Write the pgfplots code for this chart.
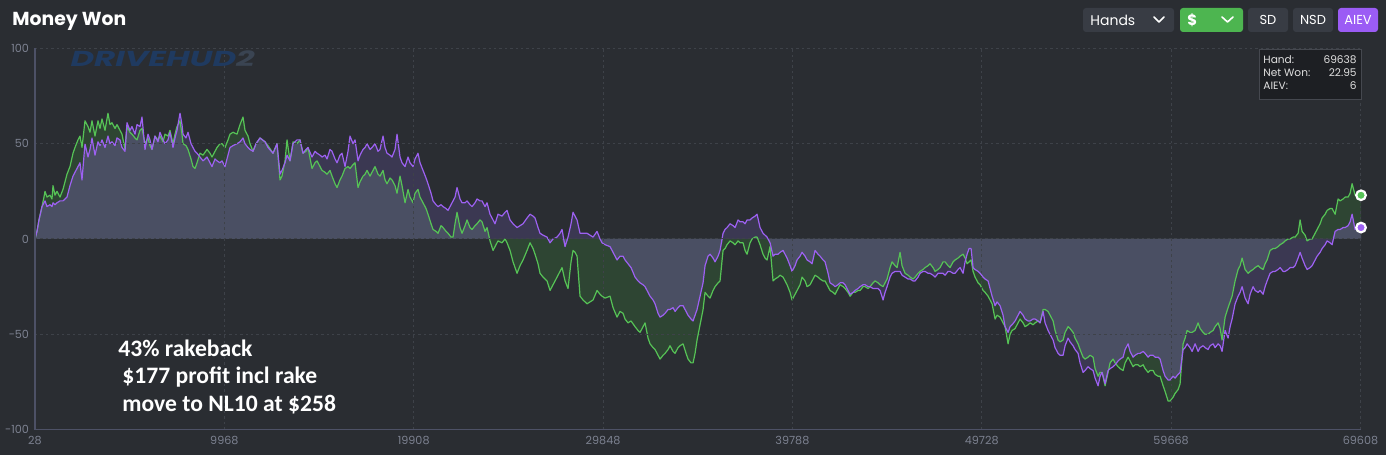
\documentclass[border=0pt]{standalone}
\usepackage{pgfplots}
\pgfplotsset{compat=1.18}
\usepackage{pgfplotstable}
\usepackage{fontspec}
\setmainfont{Poppins}
\newfontfamily\calib{Carlito}
\definecolor{bgc}{HTML}{2A2D32}
\definecolor{gridc}{HTML}{3E4249}
\definecolor{axisc}{HTML}{4D5166}
\definecolor{tickc}{HTML}{7C8190}
\definecolor{gfill}{HTML}{2E4533}
\definecolor{pfill}{HTML}{3B3852}
\definecolor{mfill}{HTML}{4A4F63}
\definecolor{gline}{HTML}{56C356}
\definecolor{pline}{HTML}{9D61F2}
\definecolor{btn}{HTML}{383C44}
\definecolor{btngreen}{HTML}{4DB550}
\definecolor{btnpurple}{HTML}{9B5CF5}
\definecolor{legbg}{HTML}{1D1F23}
\definecolor{legbd}{HTML}{45484F}
\definecolor{wmark}{HTML}{1F3A60}
\definecolor{wmarktwo}{HTML}{3A4452}

\pgfplotstableread{
x g p m
28 0 0 0
133 4 4 4
238 10 10 10
395 17 17 17
500 22 19 19
553 25 20 20
658 22 17 17
815 23 18 18
920 21 17 17
973 28 19 19
1078 23 18 18
1183 25 19 19
1340 22 20 20
1498 26 20 20
1603 30 21 21
1708 34 22 22
1865 38 28 28
2023 45 33 33
2128 48 35 35
2285 52 38 38
2390 54 40 40
2495 48 31 31
2653 62 50 50
2810 59 43 43
2915 56 47 47
3020 62 53 53
3178 54 44 44
3335 62 51 51
3440 58 49 49
3545 63 52 52
3703 57 48 48
3860 66 54 54
3965 60 50 50
4070 61 51 51
4228 58 49 49
4333 60 53 53
4490 57 52 52
4595 55 48 48
4753 47 46 46
4858 59 61 59
5015 56 57 56
5120 55 59 55
5278 53 55 53
5383 52 60 52
5540 57 59 57
5645 58 64 58
5803 50 47 47
5960 53 55 53
6065 49 52 49
6170 47 47 47
6328 54 54 54
6485 52 51 51
6590 54 56 54
6748 51 52 51
6853 55 50 50
7010 54 52 52
7115 57 56 56
7273 50 48 48
7378 55 53 53
7483 59 57 57
7640 62 66 62
7745 55 60 55
7798 50 55 50
7955 49 53 49
8060 47 56 47
8218 42 50 42
8323 38 48 38
8428 37 46 37
8533 40 45 40
8690 45 43 43
8848 44 41 41
9058 47 43 43
9215 45 40 40
9320 43 38 38
9478 46 42 42
9583 48 41 41
9740 50 40 40
9845 50 41 41
10003 48 38 38
10160 52 44 44
10265 55 48 48
10423 56 49 49
10633 55 50 50
10790 60 51 51
10948 64 53 53
11053 57 50 50
11210 54 48 48
11315 50 47 47
11473 46 46 46
11630 50 50 50
11840 53 53 53
12103 51 51 51
12260 49 48 48
12523 45 45 45
12733 50 50 50
12890 31 34 31
12995 33 36 33
13153 41 40 40
13258 52 44 44
13415 41 41 41
13573 51 50 50
13783 50 52 50
13940 52 52 52
14098 45 45 45
14255 46 47 46
14360 48 48 48
14570 37 43 37
14728 40 46 40
14833 41 45 41
14990 38 44 38
15095 36 43 36
15253 35 44 35
15358 34 42 34
15515 36 47 36
15620 33 46 33
15778 29 42 29
15883 27 40 27
16040 31 44 31
16145 33 45 33
16303 37 38 37
16460 38 46 38
16565 37 54 37
16723 39 50 39
16828 40 52 40
16985 27 41 27
17090 30 44 30
17248 33 47 33
17353 34 48 34
17458 36 50 36
17615 33 47 33
17720 35 48 35
17878 38 50 38
18035 34 46 34
18140 33 47 33
18298 36 54 36
18403 31 48 31
18508 29 45 29
18665 32 44 32
18770 31 43 31
18928 28 47 28
19033 24 55 24
19190 33 43 33
19295 28 40 28
19453 19 38 19
19610 26 43 26
19715 22 40 22
19873 19 38 19
19978 24 42 24
20135 26 45 26
20240 22 40 22
20398 19 36 19
20555 16 32 16
20660 13 29 13
20818 8 24 8
20923 5 20 5
21080 4 18 4
21185 3 17 3
21343 7 18 7
21448 6 17 6
21605 4 16 4
21710 3 15 3
21868 1 18 1
21973 1 20 1
22078 8 22 8
22183 14 27 14
22340 6 21 6
22445 3 19 3
22603 7 19 7
22708 10 20 10
22865 6 18 6
22970 5 17 5
23128 7 19 7
23233 8 21 8
23390 10 20 10
23495 9 20 9
23653 4 17 4
23758 6 19 6
23915 -1 13 0
24073 -6 10 0
24178 -4 8 0
24335 -1 13 0
24545 -2 12 0
24703 0 14 0
24808 -2 15 0
24965 -6 10 0
25123 -12 8 0
25333 -18 6 0
25490 -14 7 0
25648 -11 8 0
25858 -6 11 0
26015 -2 13 0
26173 -5 12 0
26278 -8 11 0
26435 -13 6 0
26540 -18 3 0
26698 -20 2 0
26908 -22 1 0
27065 -27 -2 -2
27223 -24 0 0
27433 -20 1 0
27590 -17 3 0
27695 -15 5 0
27853 -22 -4 -4
28010 -26 1 0
28168 -12 8 0
28273 -6 14 0
28378 -7 12 0
28483 -9 10 0
28640 -30 3 0
28798 -32 3 0
29008 -34 3 0
29165 -33 2 0
29323 -32 1 0
29533 -27 4 0
29690 -29 0 0
29795 -30 -2 -2
29953 -31 -3 -3
30215 -30 -4 -4
30373 -36 -7 -7
30583 -41 -11 -11
30740 -38 -9 -9
30898 -39 -9 -9
31003 -42 -11 -11
31160 -44 -13 -13
31318 -43 -15 -15
31528 -46 -20 -20
31685 -48 -22 -22
31790 -49 -23 -23
31948 -46 -24 -24
32053 -44 -25 -25
32210 -52 -28 -28
32315 -55 -30 -30
32473 -57 -32 -32
32578 -58 -34 -34
32735 -61 -39 -39
32840 -63 -41 -41
32998 -61 -40 -40
33103 -60 -39 -39
33260 -58 -37 -37
33365 -56 -37 -37
33523 -59 -36 -36
33628 -60 -38 -38
33785 -57 -36 -36
33890 -56 -35 -35
34048 -55 -35 -35
34205 -60 -38 -38
34310 -63 -40 -40
34468 -65 -42 -42
34573 -65 -43 -43
34678 -60 -40 -40
34783 -53 -37 -37
34940 -45 -30 -30
35098 -37 -23 -23
35203 -28 -14 -14
35360 -30 -9 -9
35465 -31 -8 -8
35623 -27 -10 -10
35728 -25 -12 -12
35885 -23 -9 -9
35990 -22 -6 -6
36148 -6 3 0
36253 -5 5 0
36358 -3 6 0
36515 -1 8 0
36673 -2 7 0
36778 -3 6 0
36935 -1 10 0
37040 -2 9 0
37198 -2 9 0
37303 -6 8 0
37408 -8 10 0
37565 -2 10 0
37670 0 11 0
37828 1 12 1
37933 1 13 1
38090 -3 6 0
38248 -8 3 0
38353 -10 2 0
38458 -11 1 0
38615 -4 -2 -2
38773 -22 -9 -9
38878 -21 -8 -8
39035 -20 -8 -8
39140 -19 -7 -7
39298 -20 -6 -6
39403 -22 -8 -8
39508 -24 -10 -10
39665 -28 -14 -14
39770 -32 -17 -17
39928 -29 -14 -14
40033 -27 -11 -11
40190 -24 -9 -9
40295 -20 -7 -7
40453 -22 -9 -9
40558 -25 -11 -11
40715 -24 -12 -12
40820 -22 -13 -13
40978 -19 -6 -6
41135 -20 -8 -8
41240 -21 -9 -9
41398 -22 -11 -11
41503 -22 -12 -12
41660 -25 -18 -18
41765 -27 -23 -23
41923 -28 -24 -24
42028 -29 -25 -25
42185 -26 -24 -24
42290 -24 -23 -23
42448 -25 -23 -23
42553 -26 -24 -24
42710 -28 -27 -27
42815 -30 -29 -29
42973 -28 -28 -28
43078 -28 -27 -27
43235 -27 -26 -26
43340 -27 -25 -25
43498 -25 -24 -24
43603 -25 -24 -24
43760 -26 -25 -25
43865 -25 -25 -25
44023 -23 -26 -23
44128 -22 -26 -22
44285 -23 -26 -23
44390 -24 -27 -24
44548 -25 -32 -25
44653 -23 -28 -23
44758 -21 -25 -21
44915 -15 -20 -15
45020 -12 -18 -12
45178 -14 -17 -14
45283 -15 -17 -15
45440 -7 -17 -7
45545 -14 -19 -14
45703 -18 -20 -18
45860 -19 -21 -19
45965 -20 -21 -20
46123 -21 -22 -21
46228 -20 -22 -20
46385 -18 -20 -18
46490 -17 -18 -17
46648 -16 -17 -16
46753 -15 -17 -15
46910 -14 -18 -14
47015 -13 -18 -13
47173 -15 -19 -15
47278 -17 -20 -17
47435 -16 -18 -16
47540 -15 -18 -15
47698 -12 -18 -12
47803 -12 -19 -12
47960 -14 -17 -14
48065 -15 -17 -15
48223 -12 -18 -12
48328 -11 -18 -11
48485 -10 -16 -10
48590 -9 -15 -9
48748 -8 -18 -8
48853 -10 -12 -10
48958 -13 -8 -8
49063 -12 -5 -5
49168 -11 -5 -5
49273 -17 -15 -15
49378 -20 -16 -16
49535 -23 -17 -17
49640 -24 -18 -18
49798 -27 -20 -20
49903 -28 -21 -21
50060 -30 -22 -22
50165 -32 -26 -26
50270 -34 -30 -30
50428 -42 -35 -35
50533 -40 -33 -33
50690 -41 -35 -35
50848 -44 -40 -40
50953 -46 -46 -46
51110 -55 -49 -49
51215 -50 -46 -46
51320 -48 -45 -45
51478 -47 -43 -43
51635 -44 -40 -40
51740 -42 -38 -38
51898 -44 -40 -40
52003 -46 -42 -42
52160 -45 -43 -43
52265 -44 -43 -43
52423 -45 -42 -42
52528 -44 -42 -42
52685 -43 -43 -43
52790 -44 -44 -44
52948 -37 -38 -37
53053 -37 -44 -37
53210 -38 -48 -38
53315 -40 -50 -40
53473 -43 -53 -43
53578 -48 -57 -48
53735 -53 -60 -53
53840 -54 -61 -54
53998 -53 -61 -53
54103 -49 -56 -49
54260 -46 -52 -46
54365 -47 -54 -47
54523 -49 -56 -49
54628 -52 -58 -52
54785 -55 -60 -55
54890 -58 -65 -58
55048 -62 -70 -62
55153 -63 -69 -63
55310 -62 -67 -62
55415 -61 -68 -61
55573 -62 -69 -62
55678 -68 -73 -68
55835 -72 -77 -72
55940 -70 -72 -70
56045 -70 -70 -70
56203 -77 -76 -76
56360 -70 -69 -69
56465 -65 -68 -65
56623 -63 -67 -63
56728 -65 -66 -65
56885 -67 -64 -64
56990 -68 -63 -63
57148 -69 -62 -62
57253 -65 -58 -58
57410 -62 -55 -55
57515 -64 -59 -59
57673 -67 -62 -62
57778 -66 -61 -61
57935 -66 -60 -60
58040 -67 -60 -60
58198 -66 -59 -59
58303 -68 -60 -60
58460 -70 -62 -62
58565 -69 -61 -61
58723 -69 -61 -61
58828 -71 -62 -62
58985 -72 -62 -62
59090 -72 -63 -63
59248 -77 -69 -69
59353 -80 -72 -72
59510 -85 -74 -74
59615 -85 -74 -74
59773 -83 -72 -72
59878 -81 -73 -73
60035 -79 -71 -71
60140 -76 -70 -70
60245 -62 -62 -62
60298 -55 -58 -55
60403 -52 -57 -52
60508 -48 -55 -48
60665 -49 -57 -49
60770 -49 -59 -49
60928 -48 -55 -48
61085 -44 -59 -44
61190 -47 -57 -47
61348 -49 -56 -49
61453 -50 -57 -50
61610 -50 -58 -50
61715 -49 -56 -49
61873 -48 -55 -48
61978 -46 -57 -46
62135 -44 -55 -44
62240 -47 -56 -47
62345 -53 -59 -53
62503 -41 -48 -41
62660 -36 -52 -36
62765 -33 -46 -33
62870 -30 -42 -30
63028 -22 -34 -22
63185 -16 -30 -16
63290 -14 -28 -14
63395 -10 -25 -10
63553 -16 -31 -16
63710 -18 -34 -18
63815 -17 -29 -17
63973 -16 -25 -16
64078 -15 -27 -15
64235 -14 -28 -14
64340 -15 -27 -15
64498 -16 -29 -16
64603 -13 -25 -13
64708 -11 -22 -11
64865 -6 -18 -6
65023 -5 -17 -5
65128 -5 -17 -5
65285 -4 -16 -4
65390 -3 -15 -3
65548 -2 -17 -2
65653 -1 -17 -1
65810 0 -16 0
65915 0 -15 0
66073 1 -15 0
66178 1 -14 0
66335 3 -10 0
66440 10 -7 0
66545 4 -10 0
66703 2 -14 0
66808 -1 -16 -1
66965 0 -15 0
67070 0 -14 0
67228 3 -11 0
67333 5 -9 0
67490 8 -7 0
67595 11 -5 0
67753 13 -3 0
67858 15 -1 0
68015 16 -2 0
68120 16 -3 0
68278 13 4 4
68435 21 5 5
68540 20 5 5
68698 21 6 6
68803 22 6 6
68960 22 7 7
69065 24 9 9
69170 29 13 13
69328 23 5 5
69485 24 6 6
69638 22.95 6 6
}\data

\begin{document}
\begin{tikzpicture}
\fill[bgc] (0,0) rectangle (693pt,227.5pt);
\begin{axis}[
  at={(17.5pt,12.7pt)}, anchor=south west,
  width=663pt, height=190.6pt, scale only axis,
  xmin=28, xmax=69638, ymin=-100, ymax=100,
  xtick={28,9968,19908,29848,39788,49728,59668,69608},
  xticklabels={28,9968,19908,29848,39788,49728,59668,69608},
  ytick={-100,-50,0,50,100},
  yticklabels={-100,-50,0,50,100},
  major tick length=0pt,
  grid=major,
  major grid style={gridc, line width=0.5pt, dash pattern=on 1.2pt off 1.5pt},
  axis x line*=bottom, axis y line*=left,
  axis line style={axisc, line width=0.6pt, -},
  axis on top,
  clip=false,
  tick label style={font=\fontsize{5.6}{6.5}\selectfont, text=tickc},
  xticklabel style={anchor=north, inner sep=0pt, yshift=-3.3pt},
  yticklabel style={anchor=east, inner sep=0pt, xshift=-2.8pt},
]
\addplot[draw=none, fill=gfill] table[x=x,y=g]{\data} \closedcycle;
\addplot[draw=none, fill=pfill] table[x=x,y=p]{\data} \closedcycle;
\addplot[draw=none, fill=mfill] table[x=x,y=m]{\data} \closedcycle;
\addplot[gline, line width=0.6pt, line join=round] table[x=x,y=g]{\data};
\addplot[pline, line width=0.6pt, line join=round] table[x=x,y=p]{\data};
\addplot[only marks, mark=*, mark size=2.4pt, mark options={fill=gline, draw=white, line width=1.1pt}] coordinates {(69638,22.95)};
\addplot[only marks, mark=*, mark size=2.4pt, mark options={fill=pline, draw=white, line width=1.1pt}] coordinates {(69638,6)};
\end{axis}

\begin{scope}[shift={(0pt,227.5pt)}, x=0.5pt, y=-0.5pt]
  % title
  \node[anchor=base west, inner sep=0pt, text=white, font=\fontsize{9.4}{11}\selectfont\bfseries] at (12,26) {Money Won};
  % watermark
  \node[anchor=base west, inner sep=0pt, xscale=1.5, font=\fontsize{10.8}{13}\selectfont\bfseries\itshape] at (70,67) {\textcolor{wmark}{DRIVEHUD}\textcolor{wmarktwo}{2}};
  % buttons
  \fill[btn, rounded corners=1.5pt] (1083,8) rectangle (1174,32);
  \fill[btngreen, rounded corners=1.5pt] (1180,8) rectangle (1243,32);
  \fill[btn, rounded corners=1.5pt] (1248,8) rectangle (1288,32);
  \fill[btn, rounded corners=1.5pt] (1293,8) rectangle (1333,32);
  \fill[btnpurple, rounded corners=1.5pt] (1338,8) rectangle (1378,32);
  \node[anchor=west, inner sep=0pt, text=white, font=\fontsize{7}{8}\selectfont] at (1090,20) {Hands};
  \draw[white, line width=0.8pt, line cap=round, line join=round] (1154,17) -- (1159,22) -- (1164,17);
  \node[anchor=west, inner sep=0pt, text=white, font=\fontsize{7.5}{8}\selectfont\bfseries] at (1187,20) {\$};
  \draw[white, line width=0.8pt, line cap=round, line join=round] (1222,17) -- (1227.5,22) -- (1233,17);
  \node[inner sep=0pt, text=white, font=\fontsize{6.5}{8}\selectfont] at (1268,20) {SD};
  \node[inner sep=0pt, text=white, font=\fontsize{6.5}{8}\selectfont] at (1313,20) {NSD};
  \node[inner sep=0pt, text=white, font=\fontsize{6.5}{8}\selectfont] at (1358,20) {AIEV};
  % info box
  \filldraw[fill=legbg, draw=legbd, line width=0.4pt] (1259,49) rectangle (1361,99);
  \node[anchor=base west, inner sep=0pt, text=white!88!black, font=\fontsize{5.3}{6}\selectfont] at (1263,64) {Hand:};
  \node[anchor=base east, inner sep=0pt, text=white!88!black, font=\fontsize{5.3}{6}\selectfont] at (1357,64) {69638};
  \node[anchor=base west, inner sep=0pt, text=white!88!black, font=\fontsize{5.3}{6}\selectfont] at (1263,77) {Net Won:};
  \node[anchor=base east, inner sep=0pt, text=white!88!black, font=\fontsize{5.3}{6}\selectfont] at (1357,77) {22.95};
  \node[anchor=base west, inner sep=0pt, text=white!88!black, font=\fontsize{5.3}{6}\selectfont] at (1263,90) {AIEV:};
  \node[anchor=base east, inner sep=0pt, text=white!88!black, font=\fontsize{5.3}{6}\selectfont] at (1357,90) {6};
  % annotation
  \node[anchor=base west, inner sep=0pt, text=white, font=\calib\fontsize{11.8}{14}\selectfont\bfseries] at (118,357) {43\% rakeback};
  \node[anchor=base west, inner sep=0pt, text=white, font=\calib\fontsize{11.8}{14}\selectfont\bfseries] at (122,384) {\$177 profit incl rake};
  \node[anchor=base west, inner sep=0pt, text=white, font=\calib\fontsize{11.8}{14}\selectfont\bfseries] at (122,411) {move to NL10 at \$258};
\end{scope}
\pgfresetboundingbox
\useasboundingbox (0,0) rectangle (693pt,227.5pt);
\end{tikzpicture}
\end{document}
